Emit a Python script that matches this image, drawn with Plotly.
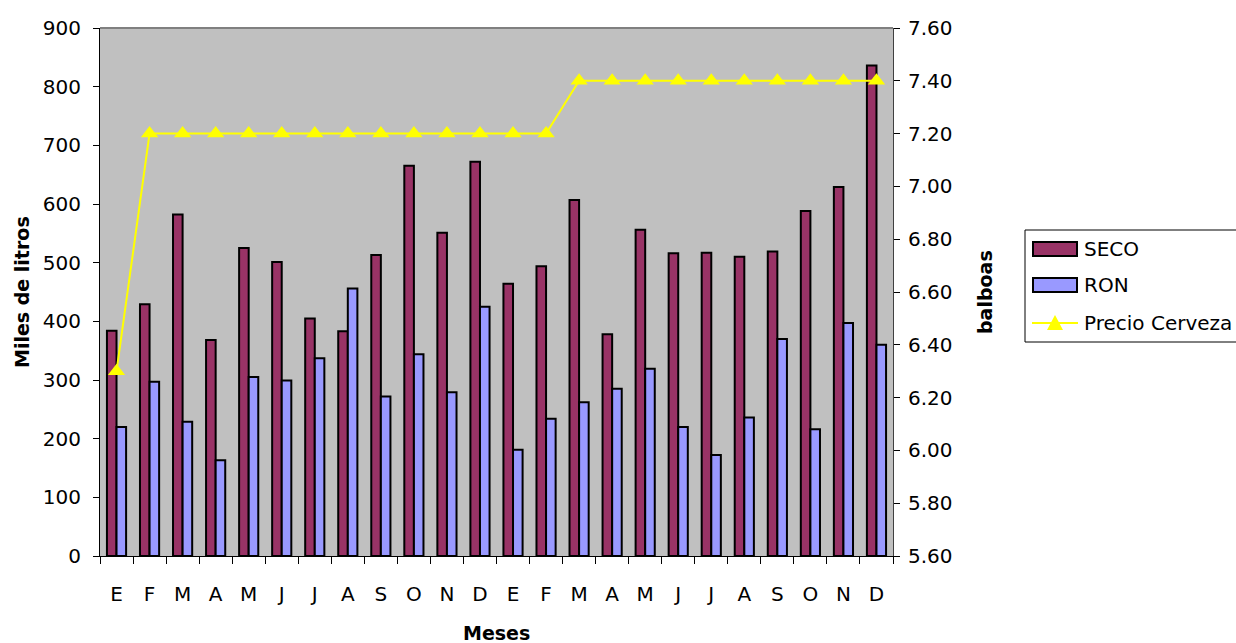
import plotly.graph_objects as go

meses = ["E", "F", "M", "A", "M", "J", "J", "A", "S", "O", "N", "D",
         "E", "F", "M", "A", "M", "J", "J", "A", "S", "O", "N", "D"]

seco = [384, 429, 582, 368, 525, 501, 405, 383, 513, 665, 551, 672,
        464, 494, 607, 378, 556, 516, 517, 510, 519, 588, 629, 836]

ron = [220, 297, 229, 163, 305, 299, 337, 456, 272, 344, 279, 425,
       181, 234, 262, 285, 319, 220, 172, 236, 370, 216, 397, 360]

precio_cerveza = [6.30, 7.20, 7.20, 7.20, 7.20, 7.20, 7.20, 7.20, 7.20, 7.20, 7.20, 7.20,
                  7.20, 7.20, 7.40, 7.40, 7.40, 7.40, 7.40, 7.40, 7.40, 7.40, 7.40, 7.40]

series_names = ["SECO", "RON", "Precio Cerveza"]
color_seco = "#993366"
color_ron = "#9999FF"
color_precio = "#FFFF00"

x = list(range(len(meses)))
font = "DejaVu Sans, Verdana, sans-serif"

W, H = 1236, 643
L, R, T, B = 100, 343, 28, 87
pw, ph = W - L - R, H - T - B


def px(xp):
    return (xp - L) / pw


def py(yp):
    return (H - B - yp) / ph


fig = go.Figure()
fig.add_trace(go.Bar(x=x, y=seco, name=series_names[0],
                     marker=dict(color=color_seco, line=dict(color="black", width=2))))
fig.add_trace(go.Bar(x=x, y=ron, name=series_names[1],
                     marker=dict(color=color_ron, line=dict(color="black", width=2))))
fig.add_trace(go.Scatter(x=x, y=precio_cerveza, name=series_names[2], yaxis="y2", mode="lines+markers",
                         line=dict(color=color_precio, width=2),
                         marker=dict(symbol="triangle-up", size=15, color=color_precio)))

fig.update_layout(
    width=W, height=H,
    margin=dict(l=L, r=R, t=T, b=B),
    paper_bgcolor="white", plot_bgcolor="#C0C0C0",
    barmode="group", bargap=0.42, bargroupgap=0,
    font=dict(family=font, size=20, color="black"),
    showlegend=False,
    xaxis=dict(range=[-0.5, 23.5], tickvals=x, ticktext=meses, ticks="", ticklabelstandoff=20,
               showgrid=False, zeroline=False, showline=True, linecolor="black", linewidth=1,
               minor=dict(tickvals=[i - 0.5 for i in range(25)], ticks="outside", ticklen=7,
                          tickcolor="black", showgrid=False)),
    yaxis=dict(range=[0, 900], dtick=100, ticks="outside", ticklen=6, tickcolor="black",
               ticklabelstandoff=8,
               showgrid=False, zeroline=False, showline=True, linecolor="black", linewidth=1),
    yaxis2=dict(range=[5.6, 7.6], dtick=0.2, tickformat=".2f", overlaying="y", side="right",
                ticks="outside", ticklen=6, tickcolor="black", ticklabelstandoff=4,
                showgrid=False, zeroline=False, showline=True, linecolor="#404040", linewidth=1),
)

# top edge of the plot frame
fig.add_shape(type="line", xref="paper", yref="paper", x0=0, x1=1, y0=1, y1=1,
              line=dict(color="#808080", width=2))

# axis titles
title_font = dict(family="DejaVu Sans, Verdana, sans-serif", size=19, color="black")
fig.add_annotation(text="<b>Miles de litros</b>", xref="paper", yref="paper", x=px(22), y=0.5,
                   textangle=-90, showarrow=False, font=title_font, xanchor="center", yanchor="middle")
fig.add_annotation(text="<b>balboas</b>", xref="paper", yref="paper", x=px(985), y=0.5,
                   textangle=-90, showarrow=False, font=title_font, xanchor="center", yanchor="middle")
fig.add_annotation(text="<b>Meses</b>", xref="paper", yref="paper", x=0.5, y=py(633),
                   showarrow=False, font=title_font, xanchor="center", yanchor="middle")

# legend box
fig.add_shape(type="rect", xref="paper", yref="paper", x0=px(1025), x1=px(1245), y0=py(230), y1=py(342),
              line=dict(color="black", width=1), fillcolor="white")
swatch_rows = [(249, color_seco), (285, color_ron)]
for (yc, col), name in zip(swatch_rows, series_names[:2]):
    fig.add_shape(type="rect", xref="paper", yref="paper", x0=px(1033), x1=px(1077),
                  y0=py(yc - 7), y1=py(yc + 7), line=dict(color="black", width=2), fillcolor=col)
    fig.add_annotation(text=name, xref="paper", yref="paper", x=px(1082), y=py(yc),
                       showarrow=False, xanchor="left", yanchor="middle",
                       font=dict(family=font, size=20, color="black"))
yl = 323
fig.add_shape(type="line", xref="paper", yref="paper", x0=px(1032), x1=px(1078), y0=py(yl), y1=py(yl),
              line=dict(color=color_precio, width=2))
fig.add_shape(type="path", xref="paper", yref="paper",
              path=f"M {px(1047)},{py(yl + 7)} L {px(1063)},{py(yl + 7)} L {px(1055)},{py(yl - 8)} Z",
              line=dict(color=color_precio, width=0), fillcolor=color_precio)
fig.add_annotation(text=series_names[2], xref="paper", yref="paper", x=px(1082), y=py(yl),
                   showarrow=False, xanchor="left", yanchor="middle",
                   font=dict(family=font, size=20, color="black"))

fig.write_html("out.html")
